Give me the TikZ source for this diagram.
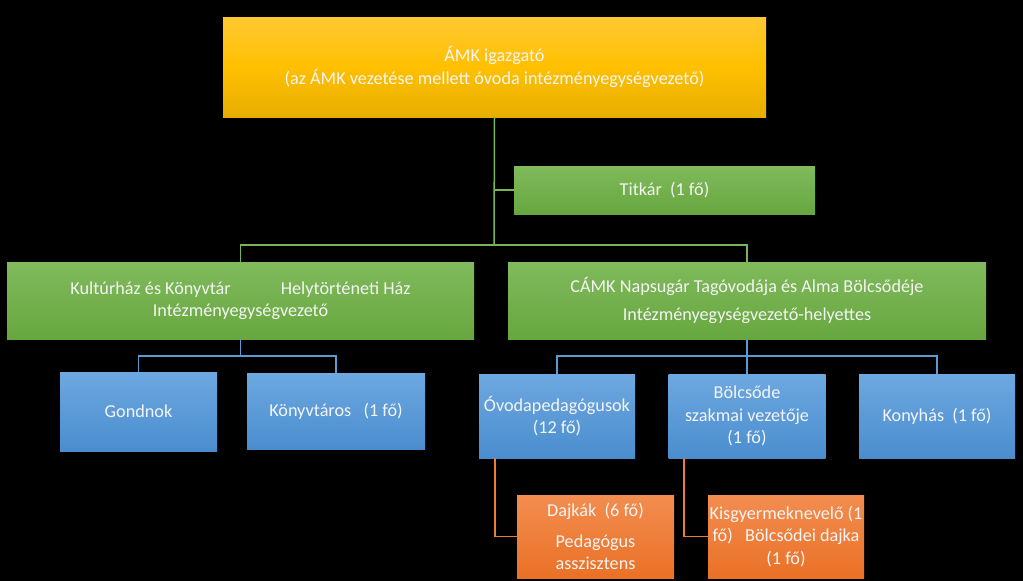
\documentclass[tikz,border=0pt]{standalone}
\usepackage{fontspec}
\setmainfont{Carlito}
\definecolor{goldtop}{HTML}{FFC832}
\definecolor{goldmid}{HTML}{FFC000}
\definecolor{goldbot}{HTML}{E6AE00}
\definecolor{greentop}{HTML}{80BA5C}
\definecolor{greenbot}{HTML}{67A73F}
\definecolor{bluetop}{HTML}{6DA8E0}
\definecolor{bluebot}{HTML}{4A8DCF}
\definecolor{orangetop}{HTML}{F28D50}
\definecolor{orangebot}{HTML}{EA7126}
\definecolor{gline}{HTML}{79B553}
\definecolor{bline}{HTML}{5B9BD5}
\definecolor{oline}{HTML}{ED7D31}
\definecolor{boxtext}{HTML}{F4F4F4}
\tikzset{
	unit/.style={rectangle,inner sep=0pt,align=center,text=boxtext,
		font=\fontsize{18.2}{22.5}\selectfont},
	director/.style={unit,top color=goldtop,bottom color=goldbot,middle color=goldmid},
	leader/.style={unit,top color=greentop,bottom color=greenbot},
	staff/.style={unit,top color=bluetop,bottom color=bluebot},
	helper/.style={unit,top color=orangetop,bottom color=orangebot},
	gwire/.style={draw=gline,line width=1.5pt},
	bwire/.style={draw=bline,line width=1.5pt},
	owire/.style={draw=oline,line width=1.5pt}
}
\begin{document}
\begin{tikzpicture}[x=1pt,y=-1pt]
	\fill[black] (0,0) rectangle (1023,581);
	% fo szint
	\node[director,minimum width=543pt,minimum height=100pt] (igazgato) at (494.5,67)
		{ÁMK igazgató\\(az ÁMK vezetése mellett óvoda intézményegységvezető)};
	\node[leader,minimum width=301pt,minimum height=48pt] (titkar) at (664.5,190)
		{Titkár\ \ (1 fő)};
	\node[leader,minimum width=467pt,minimum height=77pt] (kulturhaz) at (240.5,300.5)
		{Kultúrház és Könyvtár\hspace{50pt}Helytörténeti Ház\\Intézményegységvezető};
	\node[leader,minimum width=478pt,minimum height=77pt] (tagovoda) at (747,300.5)
		{CÁMK Napsugár Tagóvodája és Alma Bölcsődéje\\[6pt]Intézményegységvezető-helyettes};
	% dolgozok
	\node[staff,minimum width=157pt,minimum height=79pt] (gondnok) at (138.5,411.5) {Gondnok};
	\node[staff,minimum width=178pt,minimum height=76pt] (konyvtaros) at (336,411)
		{Könyvtáros\ \ \ (1 fő)};
	\node[staff,minimum width=156pt,minimum height=84pt] (ovoda) at (557,416)
		{Óvodapedagógusok\\(12 fő)};
	\node[staff,minimum width=157pt,minimum height=84pt] (bolcsode) at (747,416)
		{Bölcsőde\\szakmai vezetője\\(1 fő)};
	\node[staff,minimum width=156pt,minimum height=84pt] (konyhas) at (937,416)
		{Konyhás\ \ (1 fő)};
	\node[helper,minimum width=157pt,minimum height=83pt] (dajkak) at (595.5,536.5)
		{Dajkák\ \ (6 fő)\\[8pt]Pedagógus\\asszisztens};
	\node[helper,minimum width=156pt,minimum height=83pt] (gondozo) at (786,536.5)
		{Kisgyermeknevelő (1\\fő)\ \ \ Bölcsődei dajka\\(1 fő)};
	% vonalak
	\coordinate (trunk) at (494,245);
	\coordinate (kbus) at (240.5,356);
	\coordinate (cbus) at (747,356);
	\draw[gwire] (igazgato.south) -- (trunk);
	\draw[gwire] (igazgato.south |- titkar.west) -- (titkar.west);
	\draw[gwire] (kulturhaz.north) |- (trunk) -| (tagovoda.north);
	\draw[bwire] (kulturhaz.south) -- (kbus);
	\draw[bwire] (gondnok.north) |- (kbus) -| (konyvtaros.north);
	\draw[bwire] (tagovoda.south) -- (cbus);
	\draw[bwire] (ovoda.north) |- (cbus) -| (konyhas.north);
	\draw[bwire] (cbus) -- (bolcsode.north);
	\draw[owire] ([xshift=-62pt]ovoda.south) |- (dajkak.west);
	\draw[owire] ([xshift=-63pt]bolcsode.south) |- (gondozo.west);
\end{tikzpicture}
\end{document}
